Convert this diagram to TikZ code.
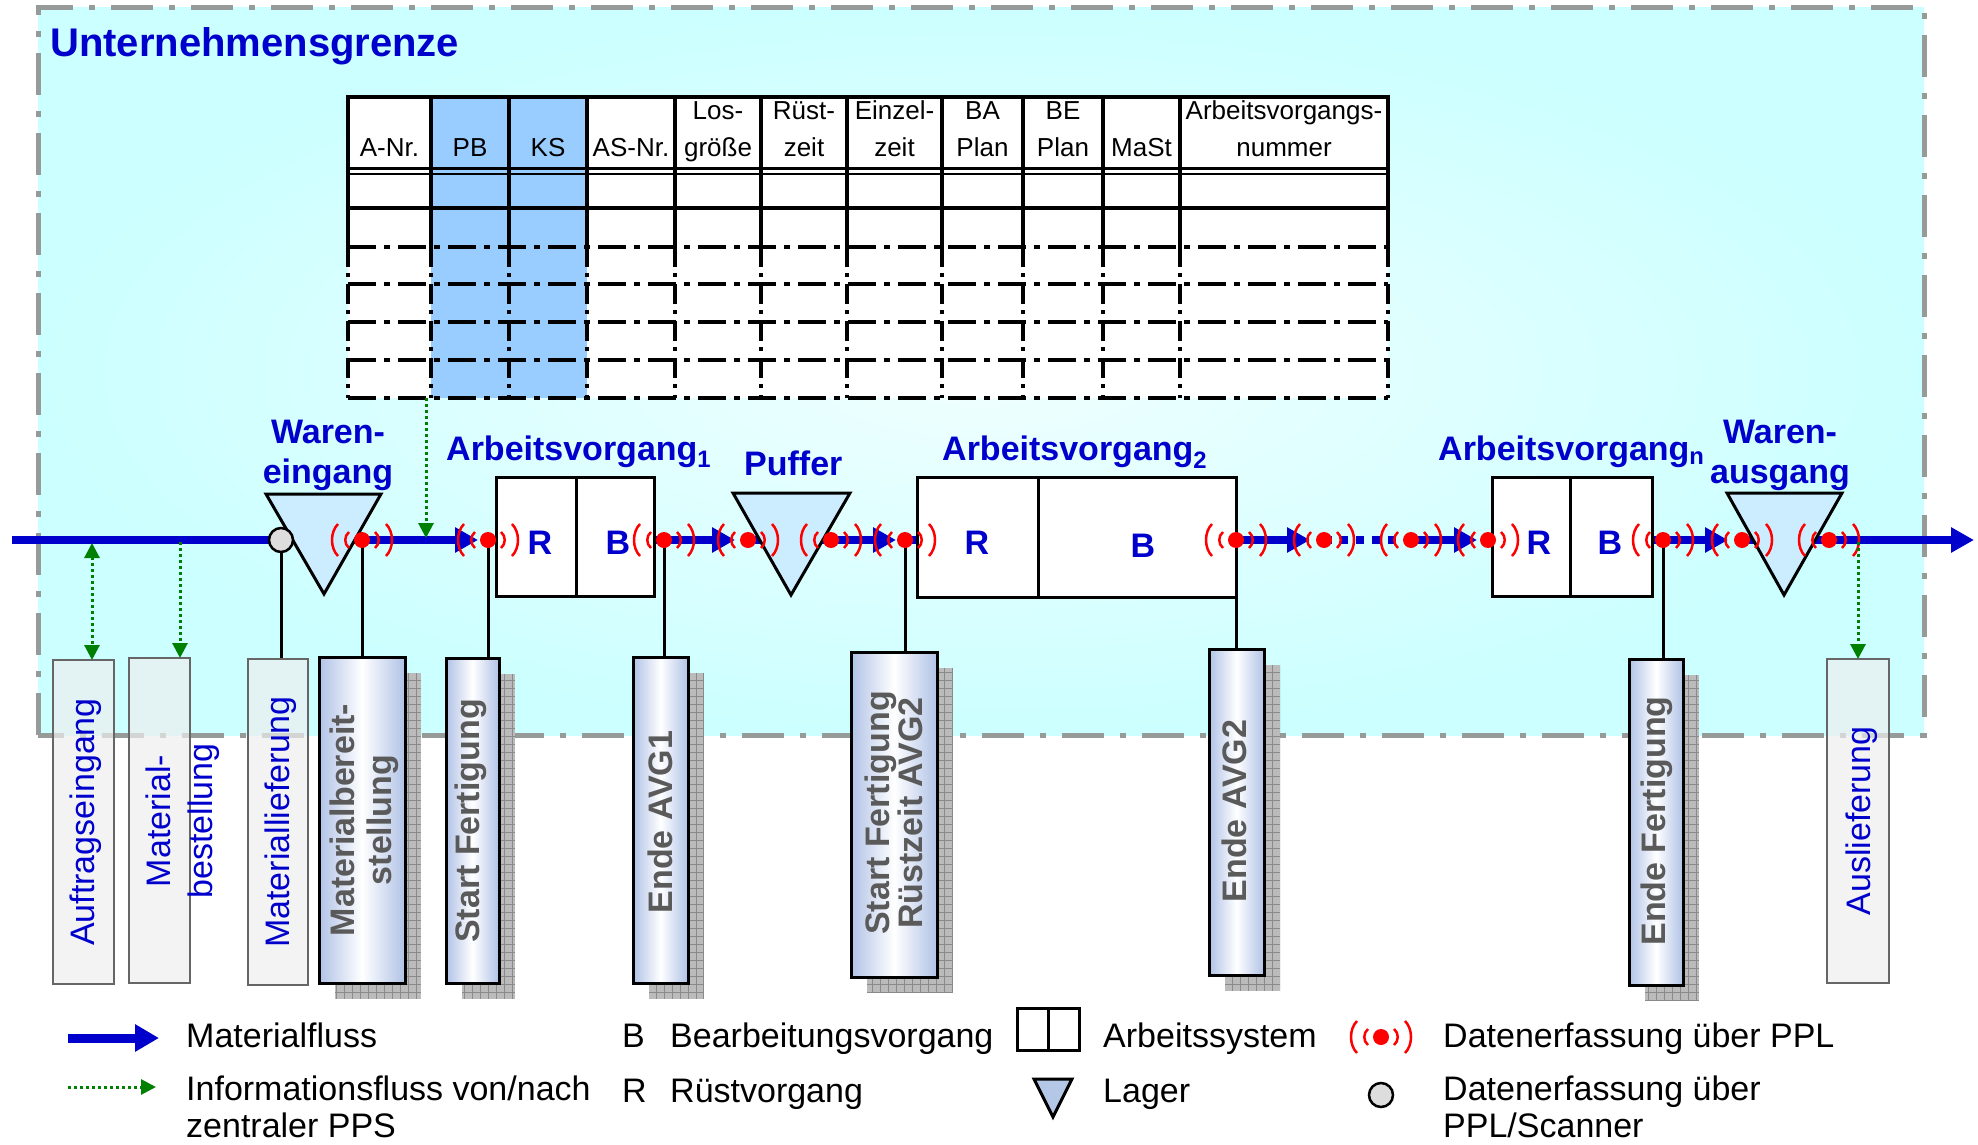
\documentclass[tikz,border=0pt]{standalone}
\usepackage{fontspec}
\setmainfont{Liberation Sans}
\usetikzlibrary{arrows.meta,calc}

\definecolor{avblue}{HTML}{0000CC}
\definecolor{bgcyan}{HTML}{CCFFFF}
\definecolor{bglight}{HTML}{F0FFFF}
\definecolor{framegray}{HTML}{969A98}
\definecolor{colblue}{HTML}{99CCFF}
\definecolor{lagerfill}{HTML}{CCECFF}
\definecolor{legtri}{HTML}{B4C7E7}
\definecolor{infogreen}{HTML}{008000}
\definecolor{eventgray}{HTML}{5A5A5A}
\definecolor{cylblue}{HTML}{B0C2E6}
\definecolor{shadowgray}{HTML}{BBBBBB}
\definecolor{shadowline}{HTML}{8A8A8A}
\definecolor{evfill}{HTML}{EEEEEE}
\definecolor{evborder}{HTML}{666666}
\definecolor{scanfill}{HTML}{DDDDDD}

\newcommand{\fsz}[2]{\fontsize{#1}{#2}\selectfont}
% hatched drop shadow of an event box, offset to the lower right
\newcommand{\castshadow}[4]{%
  \fill[shadowgray] (#1+16,#2+16) rectangle (#3+16,#4+16);
  \begin{scope}
    \clip (#1+16,#2+16) rectangle (#3+16,#4+16);
    \draw[shadowline, line width=1pt, step=8pt] (#1+16,#2+16) grid (#3+16,#4+16);
  \end{scope}}

\tikzset{
  flow/.style={draw=avblue, line width=8pt},
  flowtip/.style={-{Triangle[length=23pt,width=24pt]}},
  info/.style={draw=infogreen, line width=3pt, dash pattern=on 3pt off 3pt},
  infotip/.style={-{Triangle[length=15pt,width=15pt]}},
  lager/.style={draw=black, line width=3pt, fill=lagerfill, line join=miter},
  asys/.style={draw=black, line width=3pt, fill=white, inner sep=0pt, outer sep=0pt},
  wire/.style={draw=black, line width=3pt},
  tline/.style={line width=4pt},
  hdash/.style={dash pattern=on 28pt off 8pt on 6pt off 8pt},
  vdash/.style={dash pattern=on 20pt off 6pt on 4pt off 7pt},
  head/.style={font=\fsz{26}{30}, anchor=base, inner sep=0pt},
  stage/.style={text=avblue, font=\bfseries\fsz{34}{40}, inner sep=0pt},
  phase/.style={text=avblue, font=\bfseries\fsz{34}{40}, inner sep=0pt, anchor=base},
  evA/.style={draw=evborder, line width=2pt, fill=evfill, fill opacity=0.7, inner sep=0pt, outer sep=0pt},
  evB/.style={draw=black, line width=3pt, left color=cylblue, right color=cylblue, middle color=white, inner sep=0pt, outer sep=0pt},
  evAtext/.style={rotate=90, text=avblue, font=\fsz{34}{42}, align=center, inner sep=0pt},
  evBtext/.style={rotate=90, text=eventgray, font=\bfseries\fsz{34}{37}, align=center, inner sep=0pt},
  legtext/.style={font=\fsz{34}{40}, anchor=base west, inner sep=0pt},
  sig/.pic={
    \fill[red] (0,0) circle[radius=8];
    \draw[red, line width=2.5pt]
      (24,-16) .. controls (32,-8) and (32,8) .. (24,16)
      (13,-8) .. controls (18,-4) and (18,4) .. (13,8)
      (-24,-16) .. controls (-32,-8) and (-32,8) .. (-24,16)
      (-13,-8) .. controls (-18,-4) and (-18,4) .. (-13,8);
  }
}

\begin{document}
\begin{tikzpicture}[x=1pt,y=-1pt]
\useasboundingbox (0,0) rectangle (1978,1145);

% ---------------- enterprise boundary ----------------
\shade[inner color=bglight, outer color=bgcyan] (38,8) rectangle (1924,735);
\draw[framegray, line width=5pt, dash pattern=on 42pt off 16pt on 6pt off 16pt]
  (38,735) -- (38,8) -- (1924,8) -- (1924,735) -- cycle;
\node[anchor=base west, inner sep=0pt, text=avblue, font=\bfseries\fsz{40}{46}] (title) at (50,57) {Unternehmensgrenze};

% ---------------- order data table ----------------
\fill[white] (348,97) rectangle (1388,398);
\fill[colblue] (431,97) rectangle (587,398);
\draw[tline] (346,97) -- (1390,97);
\draw[line width=2.5pt] (348,168.5) -- (1388,168.5) (348,174) -- (1388,174);
\draw[tline] (348,208) -- (1388,208);
\foreach \y in {247,284,322,360,398} \draw[tline,hdash] (348,\y) -- (1388,\y);
\foreach \x in {348,431,509,587,675,761,847,942,1023,1103,1180,1388} {
  \draw[tline] (\x,97) -- (\x,247);
  \draw[tline,vdash] (\x,247) -- (\x,398);
}
\foreach \x/\t/\n in {389.5/A-Nr./ha, 470/PB/hb, 548/KS/hc, 631/AS-Nr./hd, 1141.5/MaSt/hk}
  \node[head] (\n) at (\x,157) {\t};
\foreach \x/\t/\u/\n in {718/Los-/größe/he, 804/Rüst-/zeit/hf, 894.5/Einzel-/zeit/hg,
    982.5/BA/Plan/hh, 1063/BE/Plan/hi, 1284/Arbeitsvorgangs-/nummer/hl} {
  \node[head] (\n1) at (\x,120) {\t};
  \node[head] (\n2) at (\x,157) {\u};
}

% ---------------- material flow line ----------------
\coordinate (fin)  at (12,540);
\coordinate (sc)   at (281,540);
\coordinate (sg1)  at (362,540);
\coordinate (sg2)  at (488,540);
\coordinate (sg3)  at (664,540);
\coordinate (sg4)  at (748,540);
\coordinate (sg5)  at (831,540);
\coordinate (sg6)  at (905,540);
\coordinate (sg7)  at (1236,540);
\coordinate (sg8)  at (1324,540);
\coordinate (sg9)  at (1411,540);
\coordinate (sg10) at (1488,540);
\coordinate (sg11) at (1663,540);
\coordinate (sg12) at (1742,540);
\coordinate (sg13) at (1829,540);
\coordinate (fout) at (1974,540);
\coordinate (a1) at (478,540);
\coordinate (a2) at (735,540);
\coordinate (a3) at (896,540);
\coordinate (a4) at (1310,540);
\coordinate (a5) at (1477,540);
\coordinate (a6) at (1728,540);

\draw[flow,flowtip] (fin) -- (a1);
\draw[flow,flowtip] (sg2) -- (a2);
\draw[flow,flowtip] (sg4) -- (a3);
\draw[flow,flowtip] (sg6) -- (a4);
\draw[flow,dash pattern=on 8pt off 8pt] (sg8) -- (sg9);
\draw[flow,flowtip] (sg9) -- (a5);
\draw[flow,flowtip] (sg10) -- (a6);
\draw[flow,flowtip] (sg12) -- (fout);

% stores
\draw[lager] (266,494) -- (381,494) -- (324,594) -- cycle;
\draw[lager] (733,493) -- (850,493) -- (791,595) -- cycle;
\draw[lager] (1727,493) -- (1842,493) -- (1784,595) -- cycle;

% work systems (set-up part R, processing part B)
\node[asys, minimum width=80pt,  minimum height=119pt] (av1r) at (536,536.5) {};
\node[asys, minimum width=78pt,  minimum height=119pt] (av1b) at (615,536.5) {};
\node[asys, minimum width=121pt, minimum height=120pt] (av2r) at (977.5,537) {};
\node[asys, minimum width=198pt, minimum height=120pt] (av2b) at (1137,537) {};
\node[asys, minimum width=78pt,  minimum height=119pt] (avnr) at (1531,536.5) {};
\node[asys, minimum width=82pt,  minimum height=119pt] (avnb) at (1611,536.5) {};
\node[stage] (r1) at (540,543) {R};
\node[stage] (b1) at (618,543) {B};
\node[stage] (r2) at (977,543) {R};
\node[stage] (b2) at (1143,546) {B};
\node[stage] (rn) at (1539,543) {R};
\node[stage] (bn) at (1610,543) {B};

% stage labels
\node[phase] (we1) at (328,443) {Waren-};
\node[phase] (we2) at (328,483) {eingang};
\node[phase, anchor=base west] (lav1) at (446,460) {Arbeitsvorgang\textsubscript{1}};
\node[phase, anchor=base west] (lpuf) at (744,475) {Puffer};
\node[phase, anchor=base west] (lav2) at (942,460) {Arbeitsvorgang\textsubscript{2}};
\node[phase, anchor=base west] (lavn) at (1438,460) {Arbeitsvorgang\textsubscript{n}};
\node[phase] (wa1) at (1780,443) {Waren-};
\node[phase] (wa2) at (1780,483) {ausgang};

% ---------------- event boxes ----------------
\castshadow{319}{657}{405}{983}
\castshadow{446}{658}{499}{983}
\castshadow{633}{657}{688}{983}
\castshadow{851}{652}{937}{977}
\castshadow{1209}{649}{1264}{975}
\castshadow{1629}{659}{1683}{985}

% wires from data capture points to events
\draw[wire] (sc) -- (281,659);
\draw[wire] (sg1) -- (362,657);
\draw[wire] (sg2) -- (488,658);
\draw[wire] (sg3) -- (664,657);
\draw[wire] (sg6) -- (905,652);
\draw[wire] (sg7) -- (1236,649);
\draw[wire] (sg11) -- (1663,659);

\node[evA, minimum width=61pt, minimum height=324pt] (ae)  at (83.5,822) {};
\node[evA, minimum width=61pt, minimum height=325pt] (mbe) at (159.5,820.5) {};
\node[evA, minimum width=60pt, minimum height=326pt] (mli) at (278,822) {};
\node[evA, minimum width=62pt, minimum height=324pt] (aus) at (1858,821) {};
\node[evB, minimum width=86pt, minimum height=326pt] (mbs) at (362,820) {};
\node[evB, minimum width=53pt, minimum height=325pt] (sf)  at (472.5,820.5) {};
\node[evB, minimum width=55pt, minimum height=326pt] (e1)  at (660.5,820) {};
\node[evB, minimum width=86pt, minimum height=325pt] (sr2) at (894,814.5) {};
\node[evB, minimum width=55pt, minimum height=326pt] (e2)  at (1236.5,812) {};
\node[evB, minimum width=54pt, minimum height=326pt] (ef)  at (1656,822) {};

\node[evAtext] (tae)  at (86,822) {Auftragseingang};
\node[evAtext] (tmbe) at (183,821) {Material-\\bestellung};
\node[evAtext] (tmli) at (281,822) {Materiallieferung};
\node[evAtext] (taus) at (1862,821) {Auslieferung};
\node[evBtext] (tmbs) at (364,820) {Materialbereit-\\stellung};
\node[evBtext] (tsf)  at (471,821) {Start Fertigung};
\node[evBtext] (te1)  at (660,822) {Ende AVG1};
\node[evBtext, font=\bfseries\fsz{34}{31}] (tsr2) at (894,813) {Start Fertigung\\Rüstzeit AVG2};
\node[evBtext] (te2)  at (1234,811) {Ende AVG2};
\node[evBtext] (tef)  at (1657,821) {Ende Fertigung};

% scanner and radio data capture points
\node[circle, draw=black, fill=scanfill, line width=2.5pt, minimum size=24pt, inner sep=0pt] (scn) at (sc) {};
\foreach \s in {sg1,sg2,sg3,sg4,sg5,sg6,sg7,sg8,sg9,sg10,sg11,sg12,sg13}
  \pic at (\s) {sig};

% information flows to/from central PPS
\coordinate (tb) at (426,398);
\draw[info,infotip] (tb) -- (426,538);
\draw[info,{Triangle[length=15pt,width=15pt]}-{Triangle[length=15pt,width=15pt]}] (92,543) -- (ae.north -| 92,0);
\draw[info,infotip] (180,542) -- (mbe.north -| 180,0);
\draw[info,infotip] (1858,542) -- (aus.north);

% ---------------- legend ----------------
\coordinate (lf1) at (68,1038);
\coordinate (lf2) at (159,1038);
\draw[draw=avblue, line width=9pt, -{Triangle[length=24pt,width=26pt]}] (lf1) -- (lf2);
\node[legtext] (lmf) at (186,1047) {Materialfluss};
\coordinate (li1) at (68,1087);
\coordinate (li2) at (156,1087);
\draw[info,infotip] (li1) -- (li2);
\node[legtext] (lif1) at (186,1100) {Informationsfluss von/nach};
\node[legtext] (lif2) at (186,1137) {zentraler PPS};
\node[legtext] (lb)  at (622,1047) {B};
\node[legtext] (lbt) at (670,1047) {Bearbeitungsvorgang};
\node[legtext] (lr)  at (622,1102) {R};
\node[legtext] (lrt) at (670,1102) {Rüstvorgang};
\node[asys, minimum width=31pt, minimum height=42pt] (las1) at (1032.5,1029) {};
\node[asys, minimum width=31pt, minimum height=42pt] (las2) at (1063.5,1029) {};
\node[legtext] (last) at (1103,1047) {Arbeitssystem};
\draw[lager, fill=legtri] (1034,1079) -- (1072,1079) -- (1053,1117) -- cycle;
\node[legtext] (llag) at (1103,1102) {Lager};
\coordinate (lsg) at (1381,1037);
\pic at (lsg) {sig};
\node[legtext] (lppl) at (1443,1047) {Datenerfassung über PPL};
\node[circle, draw=black, fill=scanfill, line width=2.5pt, minimum size=24pt, inner sep=0pt] (lscn) at (1381,1095) {};
\node[legtext] (lsc1) at (1443,1100) {Datenerfassung über};
\node[legtext] (lsc2) at (1443,1137) {PPL/Scanner};
\end{tikzpicture}
\end{document}
